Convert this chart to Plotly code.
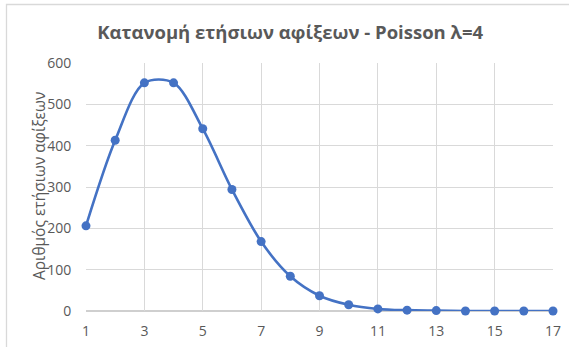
import plotly.graph_objects as go

x_vals = list(range(1, 18))
arrivals = [206, 413, 552, 552, 441, 294, 168, 84, 37, 15, 5, 2, 1, 0, 0, 0, 0]
x_ticks = [1, 3, 5, 7, 9, 11, 13, 15, 17]
y_ticks = [0, 100, 200, 300, 400, 500, 600]

W, H = 569, 347
L, R, T, B = 86, 16, 63, 36
pw, ph = W - L - R, H - T - B

fig = go.Figure()
fig.add_trace(go.Scatter(
    x=x_vals, y=arrivals, mode="lines+markers",
    line=dict(color="#4472C4", width=2.6, shape="spline", smoothing=0.9),
    marker=dict(color="#4472C4", size=9),
    hoverinfo="skip", showlegend=False, cliponaxis=False,
))

fig.update_layout(
    width=W, height=H,
    margin=dict(l=L, r=R, t=T, b=B, autoexpand=False),
    paper_bgcolor="white", plot_bgcolor="white",
    font=dict(family="Open Sans, Liberation Sans, sans-serif", color="#595959", size=13),
    title=dict(text="<b>Κατανομή ετήσιων αφίξεων - Poisson λ=4</b>",
               x=0.51, xanchor="center", y=1 - 33 / H, yanchor="middle",
               yref="container",
               font=dict(size=18.5, color="#595959", family="Open Sans, sans-serif")),
    xaxis=dict(range=[1, 17], tickvals=x_ticks, showgrid=True, gridcolor="#D9D9D9",
               gridwidth=1, zeroline=False, showline=False, automargin=False,
               ticks="outside", ticklen=7, tickcolor="rgba(0,0,0,0)",
               tickfont=dict(size=14, color="#595959")),
    yaxis=dict(range=[0, 600], tickvals=y_ticks, showgrid=True, gridcolor="#D9D9D9",
               gridwidth=1, zeroline=False, showline=False, automargin=False,
               ticks="outside", ticklen=11, tickcolor="rgba(0,0,0,0)",
               tickfont=dict(size=14, color="#595959")),
)

# bottom axis line (darker)
fig.add_shape(type="line", xref="paper", yref="paper", x0=0, x1=1, y0=0, y1=0,
              line=dict(color="#BFBFBF", width=1.3), layer="below")

# chart border
fig.add_shape(type="rect", xref="paper", yref="paper",
              x0=(6.5 - L) / pw, x1=(W + 10 - L) / pw,
              y0=-(H + 10 - (H - B)) / ph, y1=((H - B) - 4.5) / ph,
              line=dict(color="#D9D9D9", width=1.3), fillcolor="rgba(0,0,0,0)")

# y axis title
fig.add_annotation(text="Αριθμός ετήσιων αφίξεων", textangle=-90,
                   xref="paper", yref="paper",
                   x=(39 - L) / pw, y=((H - B) - 186) / ph,
                   xanchor="center", yanchor="middle", showarrow=False,
                   font=dict(size=15.5, color="#595959"))

fig.write_html("out.html")
